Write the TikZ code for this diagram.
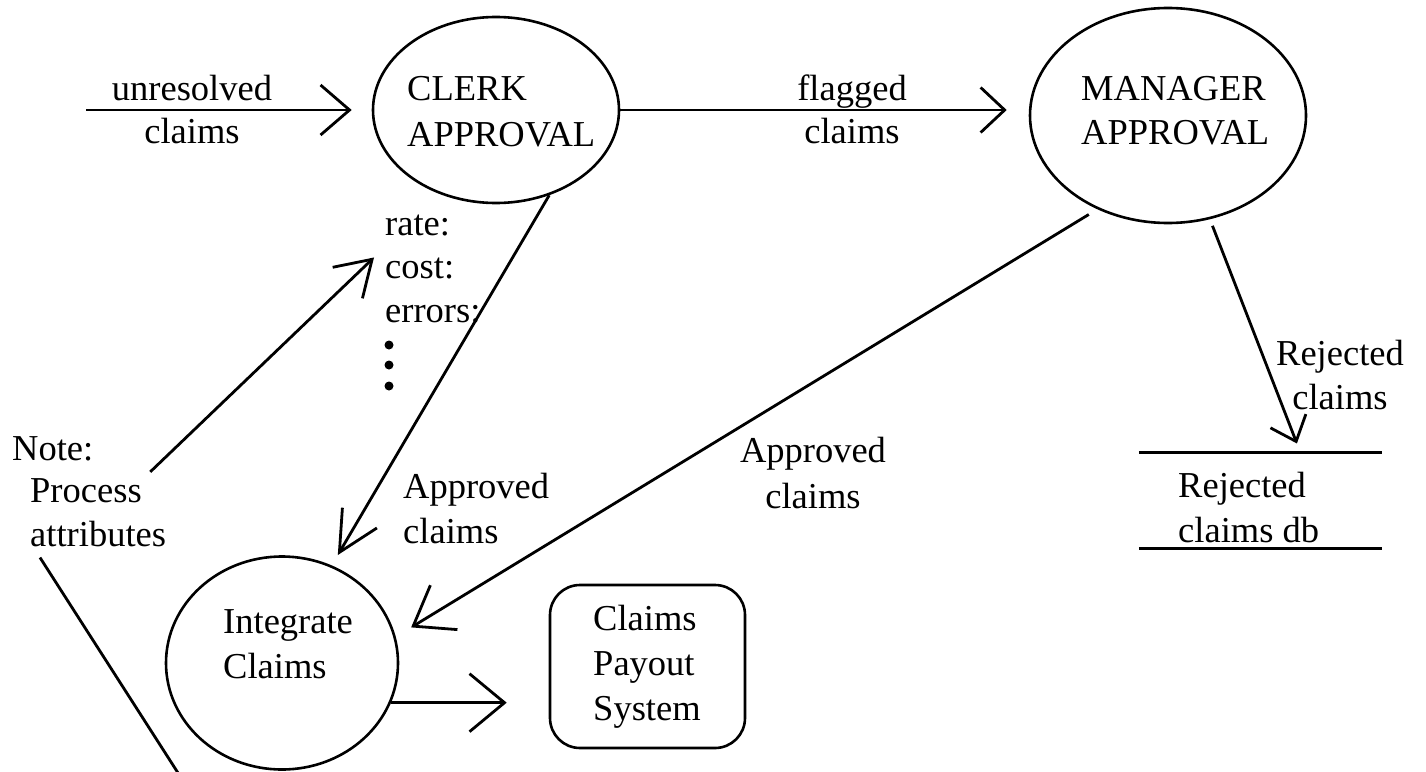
\documentclass[tikz,border=0pt]{standalone}
\usepackage{fontspec}
\setmainfont{Liberation Serif}
\usetikzlibrary{arrows.meta,shapes.geometric,calc}
\begin{document}
\begin{tikzpicture}[x=1pt,y=-1pt,
  font=\fontsize{36.5}{45}\selectfont,
  proc/.style={ellipse,draw,line width=2.6pt,inner sep=0pt},
  txt/.style={inner sep=0pt,align=left,anchor=base west},
  ctxt/.style={inner sep=0pt,align=center,anchor=base},
  flow/.style n args={2}{line width=2.8pt,-{Straight Barb[length=#1,width=#2]}},
  plain/.style={line width=2.8pt}]
\useasboundingbox (0,0) rectangle (1426,771);

% processes (multi-line texts are placed by the baseline of their last line)
\node[proc,minimum width=246pt,minimum height=186pt] (clerk) at (496,110) {};
\node[txt,font=\fontsize{36.5}{46}\selectfont] (clerktxt) at (407,146) {CLERK\\APPROVAL};
\node[proc,minimum width=276pt,minimum height=215pt] (manager) at (1168,115.5) {};
\node[txt,font=\fontsize{36.5}{44}\selectfont] (managertxt) at (1081,144) {MANAGER\\APPROVAL};
\node[proc,minimum width=232pt,minimum height=213pt] (integ) at (282,663) {};
\node[txt] (integtxt) at (223,678) {Integrate\\Claims};

% external system
\node[draw,rounded corners=30pt,line width=2.6pt,inner sep=0pt,
      minimum width=195pt,minimum height=163pt] (payout) at (647.5,666.5) {};
\node[txt] (payouttxt) at (593,720) {Claims\\Payout\\System};

% data store
\node[inner sep=0pt,minimum width=243pt,minimum height=95pt] (store) at (1260.5,500.5) {};
\draw[plain] (store.north west) -- (store.north east)
             (store.south west) -- (store.south east);
\node[txt] (storetxt) at (1178,542) {Rejected\\claims db};

% flow labels
\node[ctxt,font=\fontsize{36.5}{43}\selectfont] (lblin) at (192,143) {unresolved\\claims};
\node[ctxt,font=\fontsize{36.5}{43}\selectfont] (lblflag) at (852,143) {flagged\\claims};
\node[txt] (lblappr1) at (403,543) {Approved\\claims};
\node[ctxt,font=\fontsize{36.5}{46}\selectfont] (lblappr2) at (813,508) {Approved\\claims};
\node[ctxt,font=\fontsize{36.5}{44}\selectfont] (lblrej) at (1340,409) {Rejected\\claims};

% process attributes note
\node[txt,font=\fontsize{36.5}{43.5}\selectfont] (attrs) at (385,322) {rate:\\cost:\\errors:};
\fill (389,345) circle (4.5pt) (389,365) circle (4.5pt) (389,386) circle (4.5pt);
\node[txt] (note) at (12,460) {Note:};
\node[txt,font=\fontsize{36.5}{44}\selectfont] (procattr) at (30,546) {Process\\attributes};

% flows
\coordinate (claimsin) at (86,110);
\draw[flow={29pt}{50pt}] (claimsin) -- ([xshift=-20pt]clerk.west);
\draw[flow={24pt}{45pt}] (clerk.east) -- ([xshift=-22pt]clerk.east -| manager.west);
\draw[flow={40pt}{40pt},shorten >=12pt] (clerk.-58) -- (integ.63);
\draw[flow={36pt}{52pt},shorten <=10pt,shorten >=18pt] (manager.233) -- (integ.13);
\draw[flow={22pt}{38pt},shorten <=7pt,shorten >=10pt] (manager.-68) -- ([xshift=40pt]store.north);
\draw[flow={35pt}{58pt}] (integ.-20) -- ([xshift=-42pt]integ.-20 -| payout.west);

% note pointers
\draw[flow={34pt}{43pt}] ([shift={(-16,-6)}]procattr.north east) -- ([shift={(-11,-11)}]attrs.west);
\coordinate (noteend) at (180,776);
\draw[plain] ([shift={(10,11)}]procattr.south west) -- (noteend);
\end{tikzpicture}
\end{document}
